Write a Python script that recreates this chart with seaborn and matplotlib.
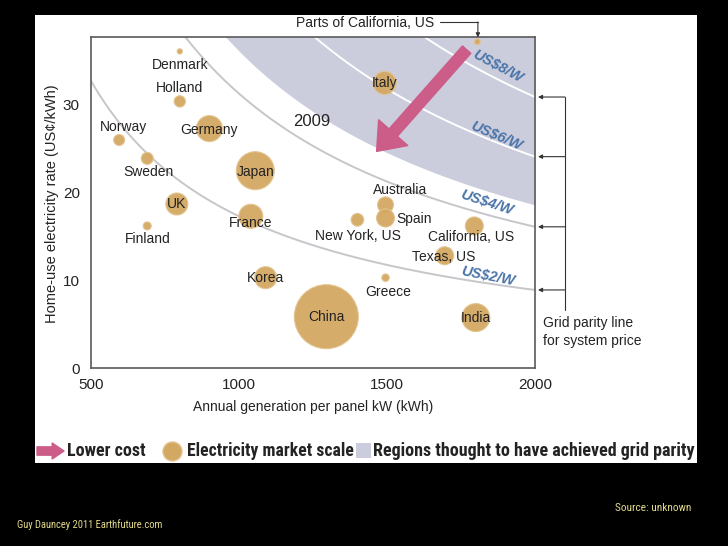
import numpy as np
import pandas as pd
import matplotlib
matplotlib.use("Agg")
import matplotlib.pyplot as plt
import seaborn as sns
from matplotlib.patches import Rectangle, FancyArrowPatch
from matplotlib.lines import Line2D
import matplotlib.transforms as mtransforms
from matplotlib import font_manager as fm

# ---------------- data ----------------
regions = ["Denmark", "Holland", "Germany", "Norway", "Sweden", "Japan", "UK",
           "Finland", "France", "New York, US", "Australia", "Spain",
           "California, US", "Texas, US", "Korea", "Greece", "China", "India",
           "Italy", "Parts of California, US"]
generation = [800, 800, 900, 595, 690, 1055, 790, 690, 1040, 1400, 1495, 1495,
              1795, 1695, 1090, 1495, 1295, 1800, 1492, 1805]
rate = [36.1, 30.4, 27.3, 26.0, 23.9, 22.5, 18.7, 16.2, 17.3, 16.9, 18.6, 17.1,
        16.2, 12.8, 10.3, 10.3, 5.85, 5.75, 32.5, 37.2]
market_scale = [7, 32, 169, 30, 36, 361, 121, 16, 144, 40, 64, 81, 81, 81, 121,
                14, 1024, 196, 132, 9]

price_labels = ["US$2/W", "US$4/W", "US$6/W", "US$8/W"]
parity_rate_at_2000 = [8.9, 16.1, 24.1, 30.9]
parity_2009_at_2000 = 18.6

x_ticks = [500, 1000, 1500, 2000]
y_ticks = [0, 10, 20, 30]

# ---------------- style / layout ----------------
sns.set_style("white")
plt.rcParams["font.family"] = ["Liberation Sans", "DejaVu Sans"]

# pick a condensed family if one is installed
names = {f.name for f in fm.fontManager.ttflist}
NARROW = ["Liberation Sans", "DejaVu Sans"]
NARROW_STRETCH = "normal"
for cand in ["Liberation Sans Narrow", "Arial Narrow", "Roboto Condensed",
             "Open Sans Condensed", "Noto Sans Condensed"]:
    if cand in names:
        NARROW = [cand, "Liberation Sans", "DejaVu Sans"]
        break

TAN = "#d3a862"
TAN_EDGE = "#e2c48f"
PINK = "#cc5c88"
PARITY_FILL = "#cbccdc"
TXT = "#232323"
BLUE = "#4a74a8"
CURVE_SHIFT = 60  # curve form: rate = A / (generation + shift)

label_layout = {  # offsets in points, alignment
    "Denmark": (0, -10, "center"), "Holland": (0, 9.4, "center"),
    "Germany": (0, -1, "center"), "Norway": (3, 9.1, "center"),
    "Sweden": (1, -9.9, "center"), "Japan": (0, -1, "center"),
    "UK": (0, 0, "center"), "Finland": (0.7, -9.1, "center"),
    "France": (0, -4.8, "center"), "New York, US": (0.7, -11.5, "center"),
    "Australia": (10.8, 10.6, "center"), "Spain": (8, -0.7, "left"),
    "California, US": (-2, -8, "center"), "Texas, US": (-0.7, -0.7, "center"),
    "Korea": (0, 0, "center"), "Greece": (2, -10.6, "center"),
    "China": (0, 0, "center"), "India": (0, 0, "center"), "Italy": (0, 0, "center"),
}
price_label_layout = {"US$8/W": (1876, 34.4, -28), "US$6/W": (1871, 26.45, -23),
                      "US$4/W": (1837, 18.85, -18), "US$2/W": (1842, 10.5, -11)}

W, H = 728, 546
fig = plt.figure(figsize=(W / 100, H / 100), dpi=100, facecolor="black")


def fx(px):
    return px / W


def fy(py):
    return 1 - py / H


fig.add_artist(Rectangle((fx(35), fy(463)), (697 - 35) / W, (463 - 15) / H,
                         transform=fig.transFigure, facecolor="white",
                         edgecolor="none", zorder=-5))

ax = fig.add_axes([fx(91), fy(368), (535 - 91) / W, (368 - 36.5) / H])
ax.set_facecolor("white")
ax.set_xlim(500, 2000)
ax.set_ylim(0, 37.8)


def parity_curve(r2000, xv):
    return r2000 * (2000 + CURVE_SHIFT) / (xv + CURVE_SHIFT)


# grid parity region and lines
xs = np.linspace(500, 2000, 400)
ax.fill_between(xs, parity_curve(parity_2009_at_2000, xs), 45,
                color=PARITY_FILL, lw=0, zorder=0.5)
for lab, r in zip(price_labels, parity_rate_at_2000):
    col = "white" if r > parity_2009_at_2000 else "#c6c6cb"
    sns.lineplot(x=xs, y=parity_curve(r, xs), ax=ax, color=col, lw=1.4,
                 estimator=None, sort=False, zorder=1)
    px_, py_, rot = price_label_layout[lab]
    ax.text(px_, py_, lab, color=BLUE, fontsize=10.5, fontweight="bold",
            fontstyle="italic", rotation=rot, ha="center", va="center", zorder=4)

# bubbles
df = pd.DataFrame({"region": regions, "generation": generation,
                   "rate": rate, "market": market_scale})
smax = (1.44 * 32) ** 2
sns.scatterplot(data=df, x="generation", y="rate", size="market",
                sizes=(0, smax), size_norm=(0, max(market_scale)), color=TAN,
                edgecolor=TAN_EDGE, linewidth=0.8, alpha=0.95, legend=False,
                ax=ax, zorder=3)

for name, gx, ry in zip(regions, generation, rate):
    if name not in label_layout:
        continue
    dx, dy, ha = label_layout[name]
    ax.annotate(name, (gx, ry), xytext=(dx, dy), textcoords="offset points",
                ha=ha, va="center", fontsize=10, color=TXT, zorder=5)

ax.text(1246, 28.1, "2009", fontsize=12, ha="center", va="center", color=TXT,
        zorder=5)

# lower cost arrow
ax.add_patch(FancyArrowPatch((1769, 36.3), (1465, 24.7),
                             arrowstyle="simple,head_length=3.6,head_width=5.6,tail_width=1.6",
                             mutation_scale=5, color=PINK, shrinkA=0, shrinkB=0,
                             zorder=6))

# Parts of California callout
ax.text(1426, 39.3, "Parts of California, US", fontsize=10, ha="center",
        va="center", color=TXT, clip_on=False)
ax.plot([1679, 1807], [39.45, 39.45], color="#333", lw=0.8, clip_on=False)
ax.annotate("", xy=(1807, 37.7), xytext=(1807, 39.45),
            arrowprops=dict(arrowstyle="-|>", color="#333", lw=0.8,
                            shrinkA=0, shrinkB=0, mutation_scale=6),
            annotation_clip=False)

# grid parity bracket on the right
trans = mtransforms.blended_transform_factory(ax.transAxes, ax.transData)
xb = (565 - 91) / 444
xtip = (538 - 91) / 444
ax.plot([xb, xb], [max(parity_rate_at_2000), 6.6], transform=trans,
        clip_on=False, color="#333", lw=0.8)
for r in parity_rate_at_2000:
    ax.annotate("", xy=(xtip, r), xycoords=trans, xytext=(xb, r),
                textcoords=trans,
                arrowprops=dict(arrowstyle="-|>", color="#333", lw=0.8,
                                shrinkA=0, shrinkB=0, mutation_scale=6),
                annotation_clip=False)
ax.text((543 - 91) / 444, 4.1, "Grid parity line\nfor system price",
        transform=trans, ha="left", va="center", fontsize=10, linespacing=1.3,
        color=TXT, clip_on=False)

# axes styling
for sp in ax.spines.values():
    sp.set_visible(True)
    sp.set_color("#5a5a5a")
    sp.set_linewidth(1.2)
ax.set_xticks(x_ticks)
ax.set_yticks(y_ticks)
ax.tick_params(axis="x", direction="in", length=5, width=1, color="#666",
               labelsize=11, pad=7, labelcolor=TXT)
ax.tick_params(axis="y", direction="out", length=6, width=1, color="#666",
               labelsize=11, pad=2, labelcolor=TXT)
ax.set_xlabel("Annual generation per panel kW (kWh)", fontsize=10, color=TXT)
ax.set_ylabel("Home-use electricity rate (US¢/kWh)", fontsize=10.5, color=TXT)
ax.xaxis.set_label_coords(0.5, -0.0965)
ax.yaxis.set_label_coords(-0.072, 0.495)

# legend row
fig.add_artist(FancyArrowPatch((fx(37), fy(451)), (fx(64), fy(451)),
                               transform=fig.transFigure,
                               arrowstyle="simple,head_length=1.7,head_width=2.3,tail_width=1.2",
                               mutation_scale=5, color=PINK, shrinkA=0, shrinkB=0))
fig.add_artist(Line2D([fx(172)], [fy(451)], marker="o", markersize=13.7,
                      color=TAN, markeredgecolor=TAN_EDGE,
                      transform=fig.transFigure))
fig.add_artist(Rectangle((fx(356), fy(458)), 15 / W, 15 / H,
                         transform=fig.transFigure, facecolor=PARITY_FILL,
                         edgecolor="none"))

fitted = []
legend_texts = [("Lower cost", 67, 87), ("Electricity market scale", 187, 165),
                ("Regions thought to have achieved grid parity", 373, 322)]
for s, x0, wpx in legend_texts:
    t = fig.text(fx(x0), fy(456), s, ha="left", va="baseline", fontsize=13,
                 fontweight="bold", family=NARROW, color=TXT)
    fitted.append((t, wpx))

# footer
t1 = fig.text(fx(691), fy(511), "Source: unknown", ha="right", va="baseline",
              fontsize=8, family=NARROW, color="#e3d98a")
t2 = fig.text(fx(17), fy(528), "Guy Dauncey 2011 Earthfuture.com", ha="left",
              va="baseline", fontsize=8, family=NARROW, color="#e3d98a")
fitted += [(t1, 77), (t2, 146)]

# size the condensed-style texts so they occupy the reference widths
renderer = fig.canvas.get_renderer()
for t, wpx in fitted:
    w = t.get_window_extent(renderer).width
    if w > 0:
        t.set_fontsize(min(13, t.get_fontsize() * wpx / w))

fig.savefig("out.png", dpi=100, facecolor="black")
